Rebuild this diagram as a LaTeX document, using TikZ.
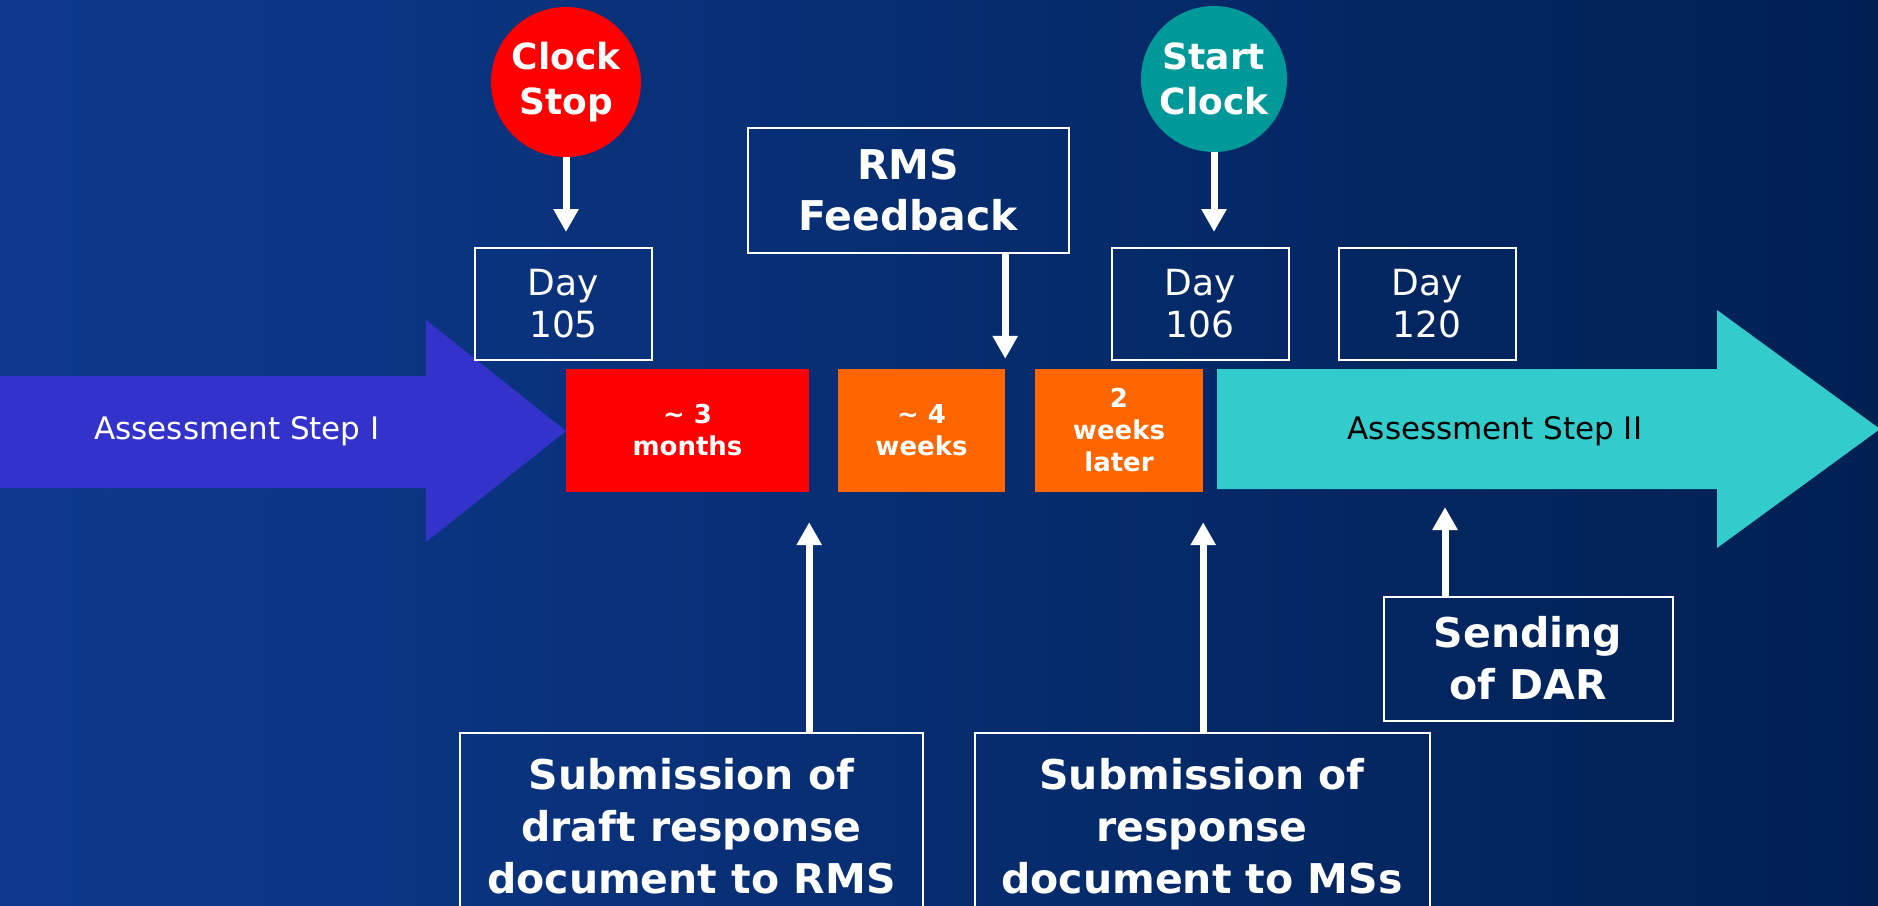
\documentclass[tikz,border=0pt]{standalone}
\usepackage{fontspec}
\setmainfont{DejaVu Sans}
\usetikzlibrary{arrows.meta}
\definecolor{bgleft}{RGB}{14,58,142}
\definecolor{bgright}{RGB}{0,32,82}
\definecolor{stepone}{RGB}{51,51,204}
\definecolor{steptwo}{RGB}{51,204,204}
\definecolor{clockteal}{RGB}{0,153,153}
\definecolor{boxorange}{RGB}{255,102,0}

\begin{document}
\begin{tikzpicture}[x=1pt,y=-1pt,
				frame box/.style = {draw=white, line width=2pt, text=white, align=center},
				day box/.style = {frame box, minimum width=177pt, minimum height=112pt, font=\fontsize{36}{42}\selectfont},
				big box/.style = {frame box, font=\fontsize{41}{52}\selectfont\bfseries},
				clock node/.style = {circle, inner sep=0pt, text=white, align=center, font=\fontsize{36}{45}\selectfont\bfseries},
				span box/.style = {inner sep=0pt, minimum height=123pt, text=white, align=center, font=\fontsize{26}{32}\selectfont\bfseries},
				pointer/.style = {draw=white, line width=7pt, -{Triangle[width=24pt,length=23pt]}}]
				
				\useasboundingbox (0,0) rectangle (1878,905);
				\shade[left color=bgleft, right color=bgright] (0,0) rectangle (1878,905);
				
				% the two assessment steps
				\fill[stepone] (0,376) -- (426,376) -- (426,320) -- (566,431) -- (426,542) -- (426,488) -- (0,488) -- cycle;
				\fill[steptwo] (1217,369) -- (1717,369) -- (1717,310) -- (1880,429) -- (1717,548) -- (1717,489) -- (1217,489) -- cycle;
				\node[text=white, font=\fontsize{31}{36}\selectfont] (s1) at (237,431) {Assessment Step I};
				\node[text=black, font=\fontsize{31}{36}\selectfont] (s2) at (1495,431) {Assessment Step II};
				\coordinate (darend) at (1445,489);
				
				\node[span box, fill=red, minimum width=243pt] (m3) at (687.5,430.5) {\textasciitilde{} 3\\months};
				\node[span box, fill=boxorange, minimum width=167pt] (w4) at (921.5,430.5) {\textasciitilde{} 4\\weeks};
				\node[span box, fill=boxorange, minimum width=168pt] (w2) at (1119,430.5) {2\\weeks\\later};
				
				\node[day box] (d105) at (563.5,304) {Day\\105};
				\node[day box] (d106) at (1200,304) {Day\\106};
				\node[day box] (d120) at (1427,304) {Day\\120};
				
				\node[frame box, minimum width=321pt, minimum height=125pt, font=\fontsize{41}{51}\selectfont\bfseries] (rms) at (908,190) {RMS\\Feedback};
				\node[clock node, fill=red, minimum size=150pt] (stop) at (566,82) {Clock\\Stop};
				\node[clock node, fill=clockteal, minimum size=146pt] (start) at (1214,79) {Start\\Clock};
				
				\node[big box, minimum width=463pt, minimum height=187pt] (sub1) at (691.5,826.5) {Submission of\\draft response\\document to RMS};
				\node[big box, minimum width=455pt, minimum height=187pt] (sub2) at (1202,826.5) {Submission of\\response\\document to MSs};
				\node[big box, minimum width=289pt, minimum height=124pt] (dar) at (1528,658.5) {Sending\\of DAR};
				
				\draw[pointer, shorten >=15pt] (stop) -- (stop |- d105.north);
				\draw[pointer, shorten >=15pt] (start) -- (start |- d106.north);
				\draw[pointer, shorten >=10pt] (rms.south -| w4.north east) -- (w4.north east);
				\draw[pointer, shorten >=30pt] (sub1.north -| m3.south east) -- (m3.south east);
				\draw[pointer, shorten >=30pt] (sub2.north -| w2.south east) -- (w2.south east);
				\draw[pointer, shorten >=18pt] (dar.north -| darend) -- (darend);
				
				\end{tikzpicture}
\end{document}
